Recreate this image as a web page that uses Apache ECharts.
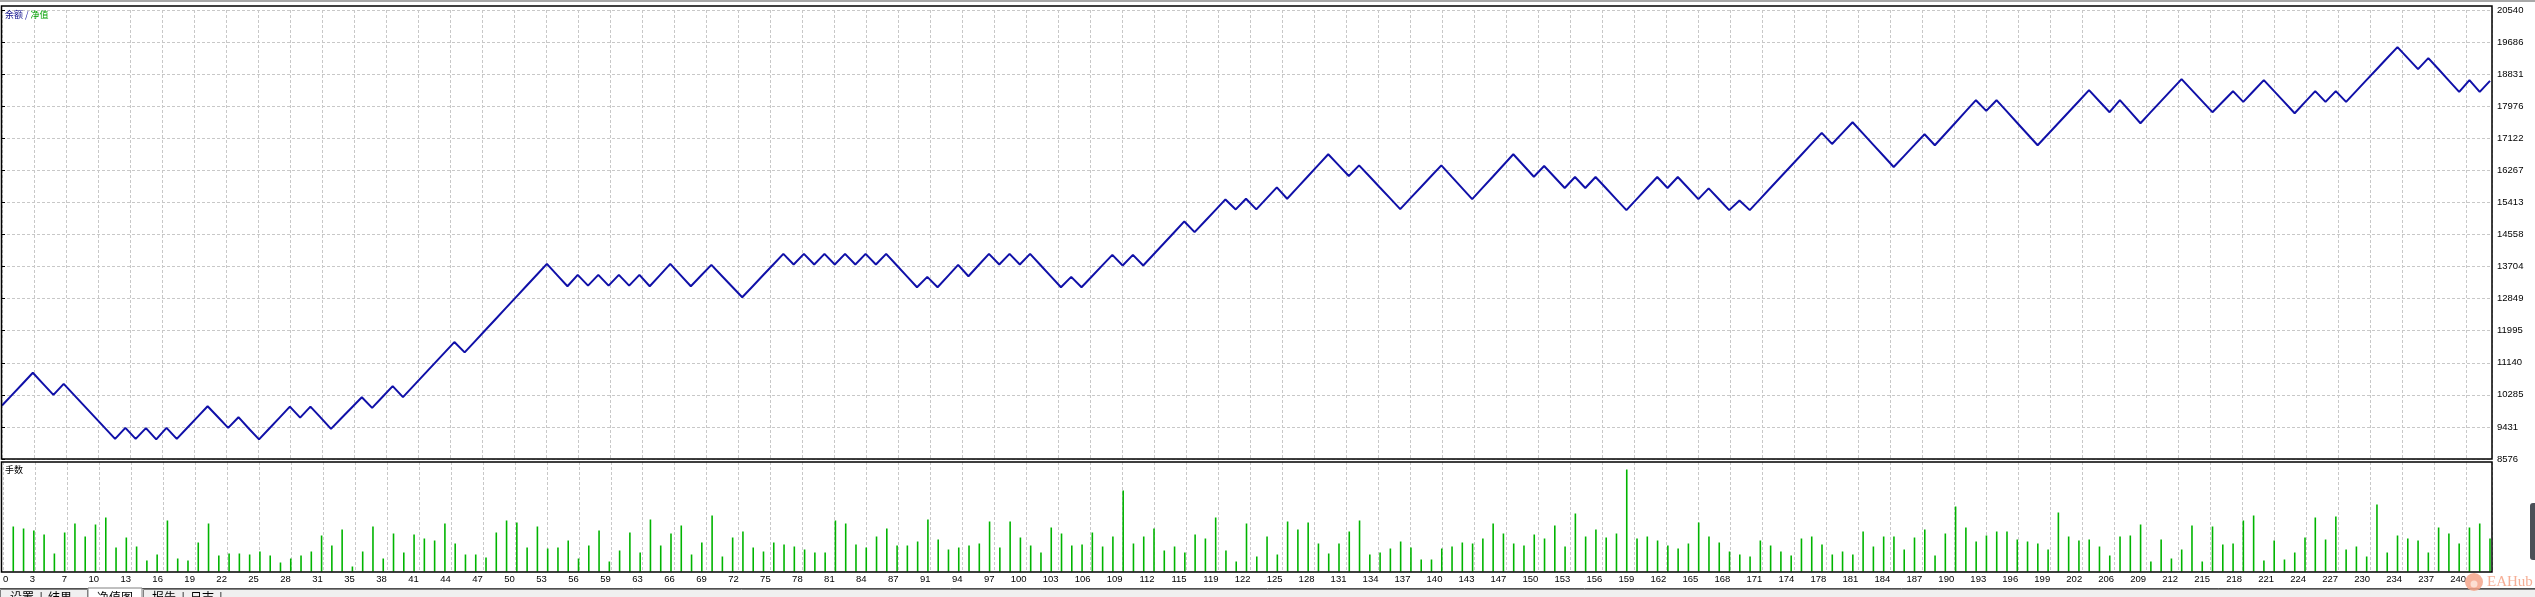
<!DOCTYPE html>
<html><head><meta charset="utf-8">
<script src="https://cdn.jsdelivr.net/npm/echarts@6.0.0/dist/echarts.min.js"></script>
<style>html,body{margin:0;padding:0;background:#fff;overflow:hidden}#c{width:2535px;height:597px}</style>
</head><body><div id="c"></div>
<script>
// Balance after each trade (trade 0 = initial deposit)
const balance = [
10000,10291,10582,10873,10579,10285,10579,10285,9992,9698,
9405,9111,9404,9111,9398,9100,9404,9111,9402,9692,
9983,9694,9404,9690,9390,9100,9390,9680,9970,9680,
9970,9680,9378,9660,9941,10223,9938,10228,10517,10223,
10517,10810,11104,11398,11692,11416,11711,12006,12301,12596,
12890,13185,13480,13775,13477,13179,13481,13197,13481,13197,
13481,13197,13481,13179,13477,13775,13477,13179,13464,13748,
13460,13172,12885,13174,13464,13753,14042,13757,14042,13757,
14042,13757,14042,13757,14042,13757,14042,13745,13449,13152,
13428,13152,13450,13748,13446,13744,14042,13757,14042,13757,
14042,13745,13449,13152,13428,13152,13440,13728,14016,13731,
14016,13731,14025,14319,14612,14906,14621,14912,15202,15493,
15226,15511,15226,15520,15814,15511,15807,16103,16399,16695,
16405,16116,16401,16110,15818,15527,15235,15527,15818,16110,
16401,16101,15802,15502,15800,16098,16397,16695,16397,16098,
16383,16090,15796,16090,15796,16090,15796,15502,15208,15502,
15796,16090,15796,16090,15796,15502,15787,15498,15208,15466,
15208,15502,15796,16090,16383,16677,16971,17265,16971,17260,
17549,17251,16953,16655,16357,16648,16938,17229,16935,17236,
17536,17837,18137,17852,18137,17837,17536,17236,16935,17229,
17523,17816,18110,18404,18110,17817,18137,17830,17523,17817,
18111,18404,18698,18404,18111,17817,18097,18377,18093,18382,
18671,18377,18084,17790,18084,18377,18093,18377,18093,18385,
18677,18968,19260,19552,19259,18965,19259,18960,18660,18360,
18671,18360,18653
];
// Lot size of trades 1..242
const lots = [
0.45,0.43,0.41,0.37,0.18,0.39,0.48,0.35,0.47,0.54,
0.24,0.34,0.25,0.11,0.17,0.51,0.13,0.11,0.29,0.48,
0.16,0.18,0.18,0.17,0.20,0.16,0.09,0.13,0.16,0.20,
0.36,0.26,0.42,0.05,0.20,0.45,0.13,0.38,
0.19,0.37,0.33,0.31,0.48,0.28,0.17,0.17,0.14,0.39,0.51,0.49,
0.24,0.45,0.23,0.24,0.31,0.13,0.26,0.41,0.10,0.21,
0.39,0.19,0.52,0.26,0.38,0.46,0.17,0.29,0.56,0.15,
0.34,0.40,0.24,0.20,0.29,0.27,0.25,0.22,0.19,0.19,
0.51,0.48,0.27,0.24,0.35,0.43,0.26,0.26,0.30,0.52,
0.32,0.22,0.24,0.26,0.28,0.50,0.24,0.50,0.34,0.26,
0.19,0.44,0.38,0.26,0.27,0.39,0.25,0.35,0.81,0.28,
0.35,0.43,0.21,0.25,0.19,0.37,0.33,0.54,0.21,0.10,
0.48,0.15,0.35,0.17,0.50,0.42,0.49,0.28,0.18,0.28,
0.40,0.51,0.17,0.19,0.23,0.30,0.24,0.12,0.12,0.23,
0.25,0.29,0.28,0.33,0.48,0.38,0.28,0.26,0.37,0.33,
0.46,0.25,0.58,0.35,0.42,0.34,0.38,1.02,0.33,0.35,
0.31,0.26,0.23,0.28,0.49,0.35,0.29,0.20,0.17,0.15,
0.31,0.26,0.20,0.16,0.33,0.35,0.27,0.17,0.20,0.17,
0.40,0.25,0.35,0.35,0.22,0.34,0.42,0.16,0.38,0.65,
0.44,0.30,0.36,0.40,0.40,0.32,0.30,0.28,0.22,0.59,
0.35,0.31,0.32,0.25,0.16,0.35,0.36,0.47,0.10,0.32,
0.13,0.22,0.46,0.10,0.45,0.27,0.28,0.51,0.56,0.11,
0.31,0.12,0.19,0.34,0.54,0.32,0.55,0.22,0.25,0.15,
0.67,0.19,0.36,0.33,0.31,0.19,0.44,0.38,0.28,0.44,0.48,0.33
];
const xTickLabels = ['0','3','7','10','13','16','19','22','25','28','31','35','38','41','44','47','50','53','56','59','63','66','69','72','75','78','81','84','87','91','94','97','100','103','106','109','112','115','119','122','125','128','131','134','137','140','143','147','150','153','156','159','162','165','168','171','174','178','181','184','187','190','193','196','199','202','206','209','212','215','218','221','224','227','230','234','237','240'];
const yTickLabels = ['8576','9431','10285','11140','11995','12849','13704','14558','15413','16267','17122','17976','18831','19686','20540'];
const legendNames = ['余额','净值'];
const subPanelName = '手数';
const tabNames = ['设置','结果','净值图','报告','日志'];

const chart = echarts.init(document.getElementById('c'), null, {renderer:'canvas'});
const PX_PER_TRADE = 10.281;
const PLOT_W = 2490;
const X_MAX = PLOT_W / PX_PER_TRADE;
const X_INT = 32 / PX_PER_TRADE;
const Y_MIN = 8576, Y_MAX = 20540;
const Y_INT = (Y_MAX - Y_MIN) / 14;
const gridLine = {show:true, lineStyle:{color:'#c8c8c8', type:[3,2], width:1}};
const labFont = {fontFamily:'Liberation Sans, Arial, sans-serif', fontSize:9.5, color:'#000'};
const cjk = 'Noto Sans CJK SC, sans-serif';

chart.setOption({
  animation:false,
  backgroundColor:'#fff',
  grid:[
    {left:2, top:10, width:PLOT_W, height:449},
    {left:2, top:462, width:PLOT_W, height:109.5}
  ],
  xAxis:[
    {type:'value', gridIndex:0, min:0, max:X_MAX, interval:X_INT,
     axisLine:{show:false}, axisTick:{show:false}, axisLabel:{show:false}, splitLine:gridLine},
    {type:'value', gridIndex:1, min:0, max:X_MAX, interval:X_INT,
     axisLine:{show:false}, axisTick:{show:false}, splitLine:gridLine,
     axisLabel:Object.assign({show:true, margin:3, align:'right', alignMinLabel:'left', showMaxLabel:false,
       formatter:(v,i)=> (xTickLabels[i] !== undefined ? xTickLabels[i] : '')}, labFont)}
  ],
  yAxis:[
    {type:'value', gridIndex:0, position:'right', min:Y_MIN, max:Y_MAX, interval:Y_INT,
     axisLine:{show:false},
     axisTick:{show:true, length:3, lineStyle:{color:'#000'}},
     splitLine:gridLine,
     axisLabel:Object.assign({margin:5, formatter:(v,i)=> (yTickLabels[i] !== undefined ? yTickLabels[i] : '')}, labFont)},
    {type:'value', gridIndex:1, min:0, max:1.095, show:false, splitLine:{show:false}}
  ],
  series:[
    {type:'line', xAxisIndex:0, yAxisIndex:0, data:balance.map((v,i)=>[i,v]),
     symbol:'none', lineStyle:{color:'#1010a8', width:2}, z:5, silent:true},
    {type:'bar', xAxisIndex:1, yAxisIndex:1, data:lots.map((v,i)=>[i+1,v]),
     barWidth:1.6, itemStyle:{color:'#00b400'}, silent:true}
  ],
  graphic:[
    {type:'rect', silent:true, shape:{x:0,y:0,width:2535,height:2}, style:{fill:'#a8a8a8'}},
    {type:'rect', silent:true, z:100, shape:{x:1.5,y:6,width:2490.5,height:453}, style:{fill:null, stroke:'#000', lineWidth:1.5}},
    {type:'rect', silent:true, z:100, shape:{x:1.5,y:462,width:2490.5,height:110}, style:{fill:null, stroke:'#000', lineWidth:1.5}},
    {type:'text', silent:true, z:100, x:5, y:10, style:{
      text:'{a|'+legendNames[0]+'}{b| / }{c|'+legendNames[1]+'}',
      rich:{a:{fill:'#10108c', fontSize:9, fontFamily:cjk},
            b:{fill:'#2020a0', fontSize:9, fontFamily:cjk},
            c:{fill:'#00a000', fontSize:9, fontFamily:cjk}},
      verticalAlign:'top'}},
    {type:'text', silent:true, z:100, x:5, y:465, style:{text:subPanelName, fill:'#000', fontSize:9, fontFamily:cjk, verticalAlign:'top'}},
    // bottom tab strip
    {type:'rect', silent:true, shape:{x:0,y:589,width:2535,height:8}, style:{fill:'#f0f0f0'}},
    {type:'line', silent:true, shape:{x1:0,y1:588.5,x2:2535,y2:588.5}, style:{stroke:'#505050', lineWidth:1}},
    {type:'rect', silent:true, shape:{x:0.5,y:589.5,width:87,height:12}, style:{fill:'#f0f0f0', stroke:'#808080', lineWidth:1}},
    {type:'rect', silent:true, shape:{x:88,y:588,width:54,height:12}, style:{fill:'#ffffff', stroke:'#808080', lineWidth:1}},
    {type:'rect', silent:true, shape:{x:143.5,y:589.5,width:2400,height:12}, style:{fill:'#f0f0f0', stroke:'#808080', lineWidth:1}},
    {type:'text', silent:true, x:10, y:591, style:{text:tabNames[0]+'  |  '+tabNames[1], fill:'#000', fontSize:12, fontFamily:cjk, verticalAlign:'top'}},
    {type:'text', silent:true, x:97, y:591, style:{text:tabNames[2], fill:'#000', fontSize:12, fontFamily:cjk, verticalAlign:'top'}},
    {type:'text', silent:true, x:152, y:591, style:{text:tabNames[3]+'  |  '+tabNames[4]+'  |', fill:'#000', fontSize:12, fontFamily:cjk, verticalAlign:'top'}},
    // right edge widget
    {type:'rect', silent:true, shape:{x:2530,y:503,width:10,height:57,r:3}, style:{fill:'#4b5057'}},
    // watermark
    {type:'circle', silent:true, z:120, shape:{cx:2474,cy:582,r:9}, style:{fill:'#f5a58a', opacity:0.85}},
    {type:'circle', silent:true, z:121, shape:{cx:2474,cy:584,r:3.5}, style:{fill:'#fde3d8', opacity:0.9}},
    {type:'text', silent:true, z:120, x:2487, y:582, style:{text:'EAHub', fill:'#f5a58a', opacity:0.9, fontSize:15, fontFamily:'Liberation Serif, DejaVu Serif, serif', verticalAlign:'middle'}}
  ]
});
</script>
</body></html>
